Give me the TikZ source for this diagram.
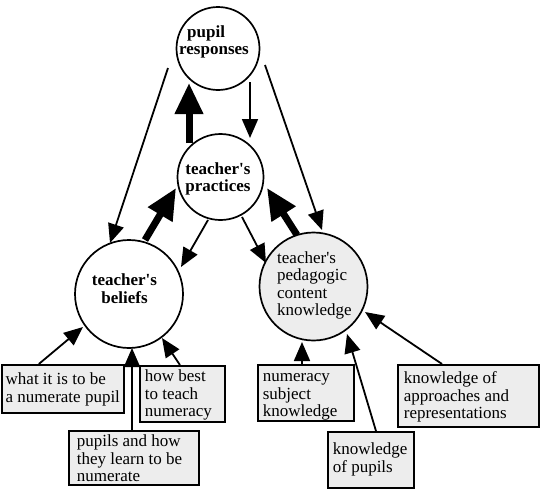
\documentclass[tikz,border=0pt]{standalone}
\usepackage{fontspec}
\setmainfont{Liberation Serif}
\usetikzlibrary{arrows.meta,calc}
\definecolor{boxfill}{gray}{0.93}
\newcommand\bxtext[5]{\parbox[c][#2][t]{#1}{\setlength{\leftskip}{#3}\rule{0pt}{#4}#5}}
\begin{document}
\begin{tikzpicture}[x=1pt,y=-1pt,font=\fontsize{17}{17.5}\selectfont,
  circ/.style={circle,draw,line width=1.7pt,inner sep=0pt,fill=white},
  bx/.style={draw,line width=1.7pt,fill=boxfill,inner sep=0pt,anchor=north west},
  lbl/.style={inner sep=0pt},
  thinarr/.style={line width=1.8pt,-{Triangle[length=19pt,width=16pt]}},
  thickarr/.style={line width=7pt,-{Triangle[length=31pt,width=27pt]}}]
\useasboundingbox (0,0) rectangle (547,491);
% circles
\node[circ,minimum size=83pt] (P) at (218,48.5) {};
\node[circ,minimum size=86pt] (T) at (220.5,177) {};
\node[circ,minimum size=108pt] (B) at (129,294) {};
\node[circ,minimum size=108pt,fill=boxfill] (K) at (313.5,286.5) {};
% circle texts
\node[lbl,anchor=base west] (Pt) at (179,37.3) {\parbox[t]{75pt}{\bfseries\hspace*{8pt}pupil\\responses}};
\node[lbl,anchor=base] (Tt) at (218,174) {\parbox[t]{90pt}{\centering\bfseries teacher\textquotesingle s\\practices}};
\node[lbl,anchor=base] (Bt) at (124.5,285.7) {\parbox[t]{90pt}{\centering\bfseries teacher\textquotesingle s\\beliefs}};
\node[lbl,anchor=base west] (Kt) at (277,263) {\parbox[t]{80pt}{teacher\textquotesingle s\\pedagogic\\content\\knowledge}};
% boxes
\node[bx] (b1) at (0.85,364) {\bxtext{122.15pt}{48pt}{4pt}{20pt}{what it is to be\\a numerate pupil}};
\node[bx] (b2) at (139,365) {\bxtext{85pt}{56pt}{5pt}{16pt}{how best\\to teach\\numeracy}};
\node[bx] (b3) at (68,430) {\bxtext{130pt}{54pt}{8pt}{16pt}{pupils and how\\they learn to be\\numerate}};
\node[bx] (b4) at (257,364) {\bxtext{96pt}{56pt}{5pt}{17pt}{numeracy\\subject\\knowledge}};
\node[bx] (b5) at (397,364) {\bxtext{141pt}{62pt}{6pt}{19pt}{knowledge of\\approaches and\\representations}};
\node[bx] (b6) at (327,431) {\bxtext{86pt}{56pt}{5pt}{23pt}{knowledge\\of pupils}};
% connectors among circles
\draw[thinarr] ($(P)+(-50,19.5)$) -- ($(B)+(-19,-51)$);
\draw[thinarr] ($(P)+(32,33.5)$) -- ($(T)+(29.5,-39)$);
\draw[thinarr] ($(P)+(47,16.5)$) -- ($(K)+(8.5,-56.5)$);
\draw[thickarr] ($(T)+(-31.5,-34)$) -- ($(P)+(-29,34.5)$);
\draw[thickarr] ($(B)+(16,-54)$) -- ($(T)+(-44.5,11)$);
\draw[thickarr] ($(K)+(-16.5,-51.5)$) -- ($(T)+(46.5,11)$);
\draw[thinarr] ($(T)+(-12.5,43)$) -- ($(B)+(52,-27)$);
\draw[thinarr] ($(T)+(21.5,40)$) -- ($(K)+(-47.5,-23.5)$);
% connectors from boxes
\draw[thinarr] ($(b1.north west)+(38,0)$) -- ($(B)+(-46,33)$);
\draw[thinarr] ($(b3.north west)+(64,0)$) -- ($(B)+(3,54)$);
\draw[thinarr] ($(b2.north west)+(41,0)$) -- ($(B)+(33,44)$);
\draw[thinarr] ($(b4.north west)+(45,0)$) -- ($(K)+(-11.5,55.5)$);
\draw[thinarr] ($(b6.north west)+(49,0)$) -- ($(K)+(33.5,47.5)$);
\draw[thinarr] ($(b5.north west)+(45,0)$) -- ($(K)+(51.5,25.5)$);
\end{tikzpicture}
\end{document}
